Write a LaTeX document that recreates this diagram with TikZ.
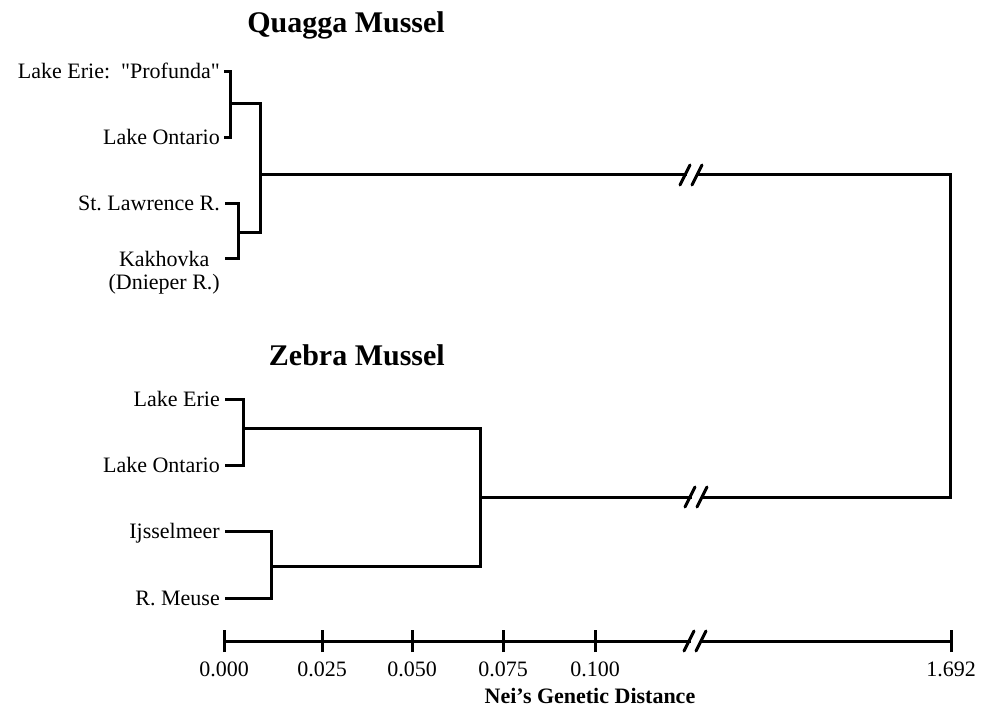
\documentclass[tikz,border=0pt]{standalone}
\usepackage{fontspec}
\setmainfont{Liberation Serif}
\frenchspacing
\begin{document}
\begin{tikzpicture}[x=1pt,y=-1pt,
  branch/.style={line width=3pt, line join=miter, line cap=rect},
  leaf/.style={anchor=base east, inner sep=0pt, font=\fontsize{22}{23}\selectfont},
  grouptitle/.style={anchor=base east, inner sep=0pt, font=\fontsize{30}{32}\selectfont\bfseries},
  ticklabel/.style={anchor=base, inner sep=0pt, font=\fontsize{22}{23}\selectfont},
  axistitle/.style={anchor=base, inner sep=0pt, font=\fontsize{22}{23}\selectfont\bfseries},
  brk/.style={line width=3pt, line cap=round}]
\useasboundingbox (0,0) rectangle (993,711);

% ---------- group titles ----------
\node[grouptitle] (tq) at (445,33) {Quagga Mussel};
\node[grouptitle] (tz) at (445,365) {Zebra Mussel};

% ---------- quagga leaves ----------
\node[leaf] (lq1) at (220,79)  {Lake Erie:\ \ \textquotedbl Profunda\textquotedbl};
\node[leaf] (lq2) at (220,145) {Lake Ontario};
\node[leaf] (lq3) at (220,211) {St. Lawrence R.};
\node[leaf, anchor=north east, align=center] (lq4) at (220,251) {Kakhovka\\(Dnieper R.)};
\coordinate (sq1) at (225,72);
\coordinate (sq2) at (225,138);
\coordinate (sq3) at (226,204);
\coordinate (sq4) at (226,259);

% ---------- zebra leaves ----------
\node[leaf] (lz1) at (220,406) {Lake Erie};
\node[leaf] (lz2) at (220,472) {Lake Ontario};
\node[leaf] (lz3) at (220,538) {Ijsselmeer};
\node[leaf] (lz4) at (220,605) {R. Meuse};
\coordinate (sz1) at (226,399);
\coordinate (sz2) at (226,465);
\coordinate (sz3) at (226,531);
\coordinate (sz4) at (226,598);

% ---------- internal nodes ----------
\coordinate (nq12) at (230,104);
\coordinate (nq34) at (238,233);
\coordinate (nq)   at (260,175);
\coordinate (nz12) at (243,428);
\coordinate (nz34) at (271,566);
\coordinate (nz)   at (480,497);
\coordinate (root) at (950,335);

% ---------- quagga clade ----------
\draw[branch] (sq1) -| (nq12) |- (sq2);
\draw[branch] (sq3) -| (nq34) |- (sq4);
\draw[branch] (nq12) -| (nq) |- (nq34);

% ---------- zebra clade ----------
\draw[branch] (sz1) -| (nz12) |- (sz2);
\draw[branch] (sz3) -| (nz34) |- (sz4);
\draw[branch] (nz12) -| (nz) |- (nz34);

% ---------- long branches to the root, with scale breaks ----------
\coordinate (bq1) at (nq -| 685,0);
\coordinate (bq2) at (nq -| 697,0);
\coordinate (bz1) at (nz -| 690,0);
\coordinate (bz2) at (nz -| 702,0);
\draw[branch] (nq) -- (bq1);
\draw[branch] (bq2) -| (root) |- (bz2);
\draw[branch] (nz) -- (bz1);
\foreach \c in {bq1,bq2,bz1,bz2}
  \draw[brk] ([shift={(-5,10)}]\c) -- ([shift={(5,-10)}]\c);

% ---------- distance axis ----------
\coordinate (a0)  at (224,641);
\coordinate (a1)  at (322,641);
\coordinate (a2)  at (412,641);
\coordinate (a3)  at (503,641);
\coordinate (a4)  at (595,641);
\coordinate (ab1) at (689,641);
\coordinate (ab2) at (701,641);
\coordinate (a5)  at (951,641);
\draw[branch] (a0) -- (ab1);
\draw[branch] (ab2) -- (a5);
\foreach \c in {ab1,ab2}
  \draw[brk] ([shift={(-5,10)}]\c) -- ([shift={(5,-10)}]\c);
\foreach \c/\v in {a0/0.000,a1/0.025,a2/0.050,a3/0.075,a4/0.100,a5/1.692}{
  \draw[line width=3pt] ([yshift=-11pt]\c) -- ([yshift=11pt]\c);
  \node[ticklabel] (t\c) at ([yshift=-35pt]\c) {\v};
}
\node[axistitle] (xt) at (590,703) {Nei’s Genetic Distance};
\end{tikzpicture}
\end{document}
